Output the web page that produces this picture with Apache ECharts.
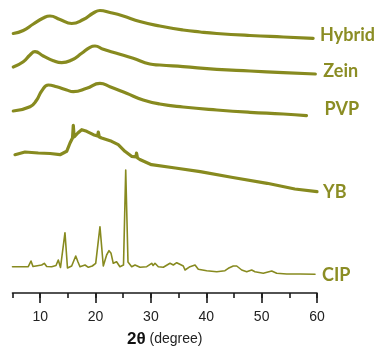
<!DOCTYPE html>
<html>
<head>
<meta charset="utf-8">
<script src="https://cdn.jsdelivr.net/npm/echarts@6/dist/echarts.min.js"></script>
<style>
  html, body { margin: 0; padding: 0; background: #ffffff; }
  #chart { width: 385px; height: 350px; }
</style>
</head>
<body>
<div id="chart"></div>
<script>
// XRD patterns, stacked (2θ in degrees, intensity in arbitrary offset units)
const hybrid = [
  [5.14, 259.5], [6.95, 262.5], [8.76, 269], [10.56, 275], [11.77, 277], [13.58, 273.5],
  [15.69, 269.5], [17.79, 273.5], [19.6, 280], [20.8, 282.5], [22.6, 280.5], [25.0, 277],
  [28.0, 271.5], [31.6, 267], [35.8, 263], [38.9, 261], [41.9, 259.5], [47.9, 257.5],
  [53.9, 256], [59.3, 254.7]
];
const zein = [
  [5.14, 226], [6.95, 231.3], [8.16, 238], [9.06, 241.3], [10.56, 237], [12.37, 232.3],
  [13.89, 230.3], [15.69, 233], [17.5, 239.7], [19.0, 245.7], [19.9, 247], [21.4, 243.7],
  [23.8, 239.7], [26.8, 234.7], [29.8, 229], [31.6, 228], [35.8, 226.3], [41.9, 223.7],
  [47.9, 222], [53.9, 220.3], [59.7, 219]
];
const pvp = [
  [5.14, 182], [8.16, 186.3], [9.37, 193], [10.27, 202], [11.47, 208], [12.98, 206.3],
  [14.79, 203], [15.98, 201.3], [18.4, 204.7], [20.8, 209.7], [22.6, 206.3], [25.6, 199.7],
  [28.6, 193], [31.6, 189], [35.8, 186], [41.9, 183], [47.9, 180.7], [53.9, 179], [58.1, 177.3]
];
const yb = [
  [5.45, 138.3], [7.26, 141], [9.66, 140], [11.8, 139.5], [13.58, 138.3], [14.79, 141.7],
  [15.39, 150], [15.84, 155], [15.98, 167.7], [16.14, 156], [16.42, 156], [16.8, 160],
  [17.5, 163.3], [18.4, 161.7], [19.6, 158.3], [20.36, 157], [20.5, 161], [20.68, 156],
  [21.1, 155], [22.9, 151.7], [24.1, 148.3], [25.3, 141.7], [26.5, 136.7], [27.3, 136],
  [27.4, 140], [27.58, 135], [28.0, 133.5], [30.1, 128.3], [34.4, 125], [38.9, 121.3],
  [44.8, 115.5], [51.0, 109.7], [56.0, 104], [60.0, 101.3]
];
const cip = [
  [5.0, 26.3], [7.85, 26.3], [8.34, 32], [8.7, 26.5], [9.06, 25.7], [10.27, 28], [10.5, 27.5],
  [10.74, 29.7], [11.18, 26.5], [12.08, 26.3], [12.86, 27.5], [13.27, 33], [13.67, 25.5],
  [14.03, 27], [14.48, 60.3], [14.93, 25], [15.69, 27], [16.42, 37], [16.83, 31], [17.19, 26.3],
  [18.1, 28], [18.7, 25.7], [19.41, 27], [20.03, 29.7], [20.8, 66.3], [21.4, 27], [22.0, 38],
  [22.43, 42.3], [22.8, 39.7], [23.2, 29.7], [23.8, 31.3], [24.4, 26.3], [25.05, 28],
  [25.45, 123], [25.86, 31], [26.04, 29.7], [26.53, 26.3], [27.13, 28], [28.03, 25.7],
  [29.24, 26.3], [30.14, 29.7], [30.4, 27.5], [30.74, 29.7], [31.34, 26.3], [32.24, 25.7],
  [33.45, 29.7], [34.05, 28], [34.66, 30.3], [35.13, 29], [35.85, 27], [36.16, 23],
  [37.06, 26.3], [37.97, 28], [38.56, 23.7], [40.08, 22.3], [41.89, 21.3], [43.38, 22.3],
  [43.98, 24.7], [44.88, 27], [45.5, 27], [46.4, 23], [47.3, 21.3], [48.2, 23], [48.8, 21.3],
  [50.3, 19.7], [51.82, 22], [52.72, 19.7], [54.53, 19], [56.93, 19], [59.64, 18.7]
];

const seriesNames = ['Hybrid', 'Zein', 'PVP', 'YB', 'CIP'];
const seriesData = [hybrid, zein, pvp, yb, cip];
const majorTicks = [10, 20, 30, 40, 50, 60];

const lineColor = '#878a1f';
const labelColor = '#8b8d24';

// per-trace label placement next to the end of each pattern, and curve smoothing
const traceStyle = {
  Hybrid: { distance: 7, offset: [0, -3], smooth: 0.5, width: 3.2 },
  Zein:   { distance: 8, offset: [0, -3], smooth: 0.5, width: 3.2 },
  PVP:    { distance: 18, offset: [0, -7], smooth: 0.5, width: 3.2 },
  YB:     { distance: 6, offset: [0, 0], smooth: false, width: 3.2 },
  CIP:    { distance: 7, offset: [0, 1], smooth: false, width: 1.6 }
};

const series = seriesNames.map((name, i) => ({
  name: name,
  type: 'line',
  data: seriesData[i],
  xAxisIndex: 0,
  yAxisIndex: 0,
  showSymbol: false,
  symbol: 'none',
  clip: false,
  smooth: traceStyle[name].smooth,
  lineStyle: { color: lineColor, width: traceStyle[name].width, join: 'round', cap: 'round' },
  endLabel: {
    show: true,
    formatter: '{a}',
    color: labelColor,
    fontFamily: 'Lato',
    fontWeight: 'bold',
    fontSize: 18,
    distance: traceStyle[name].distance,
    offset: traceStyle[name].offset
  },
  emphasis: { disabled: true }
}));

const chart = echarts.init(document.getElementById('chart'), null, { renderer: 'canvas' });
chart.setOption({
  animation: false,
  backgroundColor: '#ffffff',
  grid: { left: 12.5, right: 68, top: 0, bottom: 57, containLabel: false, outerBoundsMode: 'none' },
  xAxis: [
    {
      type: 'value',
      min: 5,
      max: 60,
      interval: 5,
      position: 'bottom',
      axisLine: { show: true, onZero: false, lineStyle: { color: '#1a1a1a', width: 1.6 } },
      axisTick: { show: true, length: 5, lineStyle: { color: '#1a1a1a', width: 1.6 } },
      axisLabel: {
        customValues: majorTicks,
        color: '#222222',
        fontFamily: 'Liberation Sans',
        fontSize: 14,
        margin: 17
      },
      splitLine: { show: false },
      name: '{b|2θ} (degree)',
      nameLocation: 'middle',
      nameGap: 38,
      nameTextStyle: {
        color: '#222222',
        fontFamily: 'Liberation Sans',
        fontSize: 14,
        rich: {
          b: { fontFamily: 'Liberation Sans', fontWeight: 'bold', fontSize: 17, color: '#111111' }
        }
      }
    },
    {
      type: 'value',
      min: 5,
      max: 60,
      position: 'bottom',
      axisLine: { show: false },
      axisTick: { show: true, customValues: majorTicks, length: 10, lineStyle: { color: '#1a1a1a', width: 1.6 } },
      axisLabel: { show: false },
      splitLine: { show: false }
    }
  ],
  yAxis: { type: 'value', min: 0, max: 293, show: false },
  series: series
});
</script>
</body>
</html>
